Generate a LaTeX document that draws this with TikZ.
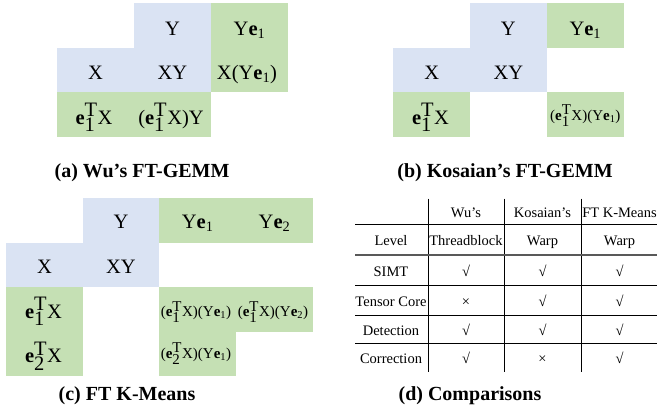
\documentclass[tikz,border=0pt]{standalone}
\usepackage{fontspec}
\setmainfont{Liberation Serif}
\definecolor{cblue}{HTML}{DAE3F3}
\definecolor{cgreen}{HTML}{C5E0B4}
\newcommand\myeT[1]{\textbf{e}$^{\textrm{T}}_{\textrm{#1}}$}
\newcommand\myYe[1]{Y\textbf{e}\textsubscript{#1}}
\tikzset{
  celltxt/.style={anchor=base,inner sep=0pt,font=\fontsize{20.5bp}{24bp}\selectfont},
  smalltxt/.style={anchor=base,inner sep=0pt,font=\fontsize{15bp}{17bp}\selectfont},
  captxt/.style={anchor=base,inner sep=0pt,font=\fontsize{20bp}{24bp}\selectfont\bfseries},
  tabtxt/.style={anchor=base,inner sep=0pt,font=\fontsize{14.5bp}{17bp}\selectfont},
  tabline/.style={line width=0.8bp,black},
}
\begin{document}
\begin{tikzpicture}[x=1bp,y=-1bp]
\useasboundingbox (0,0) rectangle (657,412);
% ---------- (a)
\fill[cblue] (134,3.3) rectangle (211,47.7);
\fill[cblue] (57,47.7) rectangle (211,92.3);
\fill[cgreen] (211,3.3) rectangle (288,92.3);
\fill[cgreen] (57,92.3) rectangle (211,136.7);
\node[celltxt] (aY) at (172.5,35) {Y};
\node[celltxt] (aYe) at (249.5,35) {\myYe{1}};
\node[celltxt] (aX) at (95.5,79.5) {X};
\node[celltxt] (aXY) at (172.5,79.5) {XY};
\node[celltxt] (aXYe) at (247,79.5) {X(\myYe{1})};
\node[celltxt] (aeX) at (94,124) {\myeT{1}X};
\node[celltxt] (aeXY) at (171,124) {(\myeT{1}X)Y};
\node[captxt] (capa) at (142,177) {(a) Wu’s FT-GEMM};
% ---------- (b)
\fill[cblue] (470,3.3) rectangle (546.7,47.7);
\fill[cblue] (393.3,47.7) rectangle (546.7,92.3);
\fill[cgreen] (546.7,3.3) rectangle (624,47.7);
\fill[cgreen] (393.3,92.3) rectangle (470,136.7);
\fill[cgreen] (546.7,92.3) rectangle (624,136.7);
\node[celltxt] (bY) at (508.3,35) {Y};
\node[celltxt] (bYe) at (585.3,35) {\myYe{1}};
\node[celltxt] (bX) at (431.7,79.5) {X};
\node[celltxt] (bXY) at (508.3,79.5) {XY};
\node[celltxt] (beX) at (430.5,124) {\myeT{1}X};
\node[smalltxt] (bc) at (585.3,120) {(\myeT{1}X)(\myYe{1})};
\node[captxt] (capb) at (505,177) {(b) Kosaian’s FT-GEMM};
% ---------- (c)
\fill[cblue] (83,198) rectangle (159.3,242.7);
\fill[cblue] (6,242.7) rectangle (159.3,287.3);
\fill[cgreen] (159.3,198) rectangle (313,242.7);
\fill[cgreen] (6,287.3) rectangle (83,376);
\fill[cgreen] (159.3,287.3) rectangle (313,331.7);
\fill[cgreen] (159.3,331.7) rectangle (236,376);
\node[celltxt] (cY) at (121,228.5) {Y};
\node[celltxt] (cYe1) at (197.7,228.5) {\myYe{1}};
\node[celltxt] (cYe2) at (274.5,228.5) {\myYe{2}};
\node[celltxt] (cX) at (44.5,273.5) {X};
\node[celltxt] (cXY) at (121,273.5) {XY};
\node[celltxt] (ce1X) at (43.5,318) {\myeT{1}X};
\node[celltxt] (ce2X) at (43.5,362.5) {\myeT{2}X};
\node[smalltxt] (c11) at (196,316.7) {(\myeT{1}X)(\myYe{1})};
\node[smalltxt] (c12) at (273,316.7) {(\myeT{1}X)(\myYe{2})};
\node[smalltxt] (c21) at (196,358) {(\myeT{2}X)(\myYe{1})};
\node[captxt] (capc) at (127,400) {(c) FT K-Means};
% ---------- (d)
\draw[tabline] (428,198.5) -- (428,372);
\draw[tabline] (504.3,198.5) -- (504.3,372);
\draw[tabline] (581,198.5) -- (581,372);
\draw[tabline] (355,224.5) -- (657,224.5);
\draw[line width=1.6bp,black!65] (355,255) -- (657,255);
\draw[tabline] (355,285.7) -- (657,285.7);
\draw[tabline] (355,315) -- (657,315);
\draw[tabline] (355,343.3) -- (657,343.3);
\node[tabtxt] (h1) at (466,217.3) {Wu’s};
\node[tabtxt] (h2) at (542.5,217.3) {Kosaian’s};
\node[tabtxt] (h3) at (619.5,217.3) {FT K-Means};
\node[tabtxt] (r1) at (391,245) {Level};
\node[tabtxt] (r1a) at (466,245) {Threadblock};
\node[tabtxt] (r1b) at (542.5,245) {Warp};
\node[tabtxt] (r1c) at (619.5,245) {Warp};
\node[tabtxt] (r2) at (391,276) {SIMT};
\node[tabtxt] (r2a) at (466,276) {√};
\node[tabtxt] (r2b) at (542.5,276) {√};
\node[tabtxt] (r2c) at (619.5,276) {√};
\node[tabtxt] (r3) at (391,306) {Tensor Core};
\node[tabtxt] (r3a) at (466,306) {×};
\node[tabtxt] (r3b) at (542.5,306) {√};
\node[tabtxt] (r3c) at (619.5,306) {√};
\node[tabtxt] (r4) at (391,335) {Detection};
\node[tabtxt] (r4a) at (466,335) {√};
\node[tabtxt] (r4b) at (542.5,335) {√};
\node[tabtxt] (r4c) at (619.5,335) {√};
\node[tabtxt] (r5) at (391,363.3) {Correction};
\node[tabtxt] (r5a) at (466,363.3) {√};
\node[tabtxt] (r5b) at (542.5,363.3) {×};
\node[tabtxt] (r5c) at (619.5,363.3) {√};
\node[captxt] (capd) at (470,400) {(d) Comparisons};
\end{tikzpicture}
\end{document}
